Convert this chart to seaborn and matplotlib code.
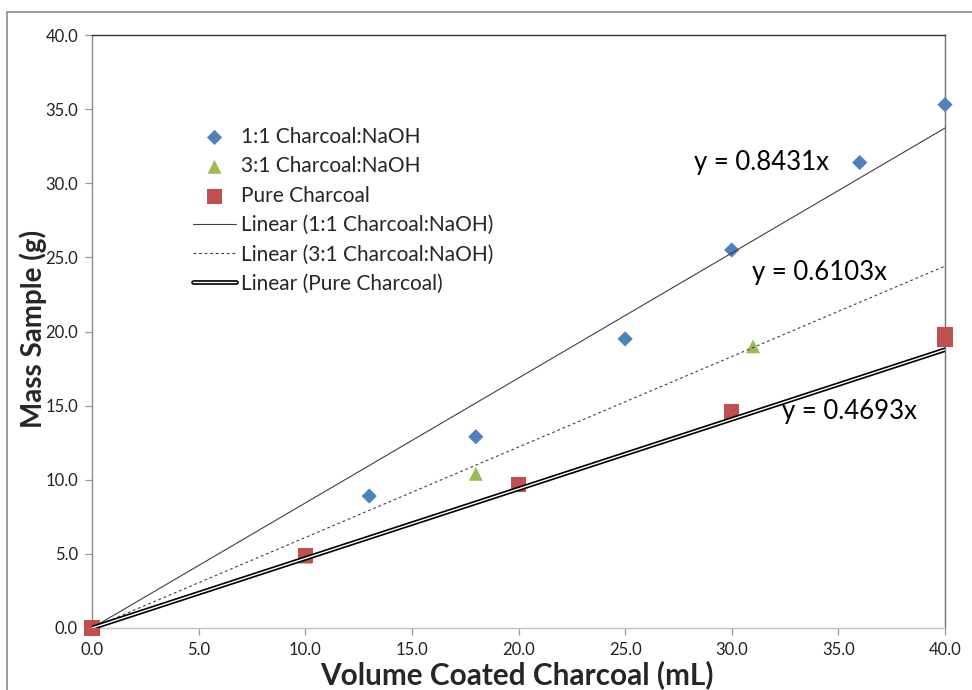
import matplotlib
matplotlib.use("Agg")
import matplotlib.pyplot as plt
import matplotlib.patheffects as pe
from matplotlib.patches import Rectangle
import seaborn as sns
import pandas as pd
import numpy as np

sns.set_style("white")
plt.rcParams['font.family'] = ['Lato', 'DejaVu Sans']

# ---- data ----
x_11 = [0, 13, 18, 25, 30, 36, 40]
y_11 = [0, 8.9, 12.9, 19.5, 25.5, 31.4, 35.3]
x_31 = [0, 10, 18, 31]
y_31 = [0, 4.8, 10.4, 19.0]
x_pure = [0, 10, 20, 30, 40, 40]
y_pure = [0, 4.9, 9.7, 14.6, 19.5, 19.8]

series_names = ["1:1 Charcoal:NaOH", "3:1 Charcoal:NaOH", "Pure Charcoal"]
slopes = [0.8431, 0.6103, 0.4693]
fit_x = [0, 40]
eq_pos = [(31.4, 31.4), (34.1, 24.0), (35.5, 14.6)]
x_ticks = [0, 5, 10, 15, 20, 25, 30, 35, 40]
y_ticks = [0, 5, 10, 15, 20, 25, 30, 35, 40]

colors = ["#4F81BD", "#9BBB59", "#C0504D"]
markers = ["D", "^", "s"]
msizes = [60, 100, 120]

fig = plt.figure(figsize=(9.72, 6.9), dpi=100)
fig.patches.append(Rectangle((7/972, -0.1), 1.2, 1.1 - 12/690, transform=fig.transFigure,
                             fill=False, edgecolor="#8c8c8c", linewidth=1.2))
ax = fig.add_axes([92/972, 62/690, 853/972, 593/690])

data_sets = [(x_11, y_11), (x_31, y_31), (x_pure, y_pure)]
for (xs, ys), name, c, m, s in zip(data_sets, series_names, colors, markers, msizes):
    df = pd.DataFrame({"x": xs, "y": ys})
    sns.scatterplot(data=df, x="x", y="y", ax=ax, color=c, marker=m, s=s,
                    edgecolor="none", label=name, zorder=3, clip_on=False)

# trendlines
line_styles = [
    dict(color="#404040", linewidth=0.8, linestyle="-"),
    dict(color="#404040", linewidth=0.8, linestyle=(0, (2.5, 2.5))),
    dict(color="white", linewidth=1.0, linestyle="-",
         path_effects=[pe.Stroke(linewidth=3.4, foreground="black"), pe.Normal()]),
]
for name, k, st in zip(series_names, slopes, line_styles):
    df = pd.DataFrame({"x": fit_x, "y": [k * v for v in fit_x]})
    sns.lineplot(data=df, x="x", y="y", ax=ax, label=f"Linear ({name})", zorder=4, **st)

for k, (ex, ey) in zip(slopes, eq_pos):
    ax.text(ex, ey, f"y = {k:.4f}x", fontsize=18.5, ha="center", va="center", color="black", zorder=5)

ax.set_xlim(0, 40)
ax.set_ylim(0, 40)
ax.set_xticks(x_ticks)
ax.set_yticks(y_ticks)
ax.set_xticklabels([f"{v:.1f}" for v in x_ticks], fontsize=12, color="#222222")
ax.set_yticklabels([f"{v:.1f}" for v in y_ticks], fontsize=12, color="#222222")
ax.tick_params(axis="both", direction="out", length=5, width=0.9, color="#999999", pad=5,
               bottom=True, left=True)

xl = ax.set_xlabel("Volume Coated Charcoal (mL)", fontsize=20, fontweight="bold")
yl = ax.set_ylabel("Mass Sample (g)", fontsize=20, fontweight="bold")

# fit label sizes to the reference extents
fig.canvas.draw()
r = fig.canvas.get_renderer()
wx = xl.get_window_extent(r).width
xl.set_fontsize(20 * 393 / wx)
wy = yl.get_window_extent(r).height
yl.set_fontsize(20 * 198 / wy)

xl.set_va("center")
yl.set_va("center")
ax.xaxis.set_label_coords((517 - 92) / 853, (628 - 675) / 593)
ax.yaxis.set_label_coords((33 - 92) / 853, (628 - 329) / 593)

for side, col in [("left", "#8a8a8a"), ("bottom", "#bfbfbf"), ("top", "#333333"), ("right", "#707070")]:
    ax.spines[side].set_visible(True)
    ax.spines[side].set_color(col)
    ax.spines[side].set_linewidth(1.0)
ax.grid(False)

leg = ax.legend(loc="upper left", bbox_to_anchor=(0.118, 0.845), frameon=False,
                fontsize=15, handlelength=2.1, handletextpad=0.2, labelspacing=0.45,
                borderaxespad=0, borderpad=0)

fig.savefig("out.png", dpi=100)
